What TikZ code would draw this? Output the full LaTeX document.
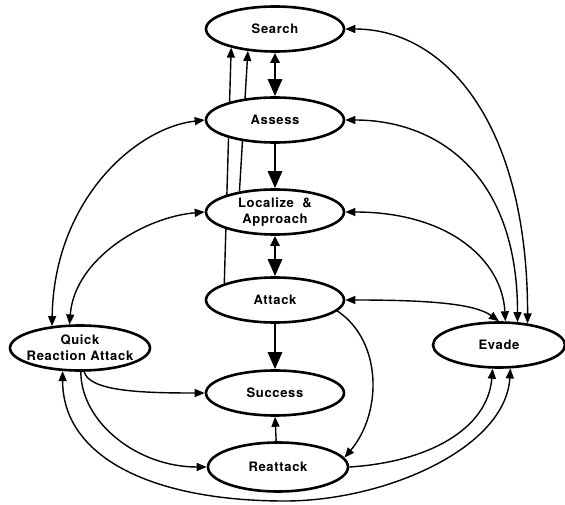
\documentclass[tikz,border=0pt]{standalone}
\usepackage{fontspec}
\newfontfamily\statefont{TeX Gyre Heros}[LetterSpace=5]
\usepackage{tikz}
\usetikzlibrary{arrows.meta,shapes.geometric,backgrounds,positioning}

\tikzset{
  state/.style={ellipse,draw,fill=white,line width=2.6pt,
    minimum width=138pt,minimum height=45pt,inner sep=0pt,align=center,
    font=\statefont\bfseries\fontsize{13}{16}\selectfont},
  link/.style={line width=1.4pt,-{Triangle[length=10pt,width=8pt]}},
  both/.style={link,{Triangle[length=10pt,width=8pt]}-{Triangle[length=10pt,width=8pt]}},
  main/.style={line width=2.8pt,-{Triangle[length=17pt,width=14pt]}},
  mainboth/.style={main,{Triangle[length=10pt,width=9pt]}-{Triangle[length=17pt,width=14pt]}}
}

\begin{document}
\begin{tikzpicture}[x=1pt,y=-1pt]
  \useasboundingbox(0,0)rectangle(565,505);
  \node[state](search)at(275,29){Search};
  \node[state](assess)at(275,120){Assess};
  \node[state](localize)at(275,212){Localize\ \ \&\\Approach};
  \node[state](attack)at(275,300){Attack};
  \node[state](success)at(275,393){Success};
  \node[state,minimum width=140pt,minimum height=49pt](reattack)at(278,467){Reattack};
  \node[state,minimum width=140pt,inner xsep=-8pt](quick)at(80,348){Quick\\Reaction\ Attack};
  \node[state,minimum width=132pt](evade)at(499,345){Evade};
  \coordinate(loopbottom)at(285,501);
  \begin{scope}[on background layer]
    \draw[mainboth](search.south)--(assess.north);
    \draw[main](assess.south)--(localize.north);
    \draw[mainboth](localize.south)--(attack.north);
    \draw[main](attack.south)--(success.north);
    \draw[link](reattack.94)--(success.south);
    \draw[link](attack.162)--(search.-157);
    \draw[link](localize.150)--(search.-141);
    \draw[both](search.east)..controls+(100,0)and+(0,-200)..(evade.37);
    \draw[both](assess.east)..controls+(90,0)and+(0,-150)..(evade.51);
    \draw[both](localize.east)..controls+(105,0)and+(-3,-60)..(evade.75);
    \draw[both](attack.east)..controls+(80,0)and+(-25,-18)..(evade.north);
    \draw[link](attack.-10)..controls+(45,30)and+(38,-45)..(reattack.8);
    \draw[both](assess.west)..controls+(-70,8)and+(2,-125)..(quick.142);
    \draw[both](localize.west)..controls+(-60,5)and+(5,-66)..(quick.114);
    \draw[link](quick.-80)..controls+(5,20)and+(-60,0)..(success.west);
    \draw[link](quick.-88)..controls+(0,50)and+(-70,0)..(reattack.west);
    \draw[both](quick.-127)..controls+(0,85)and+(-135,0)..(loopbottom)
      ..controls+(100,0)and+(-5,80)..(evade.-64);
    \draw[link](reattack.east)..controls+(80,-5)and+(-5,60)..(evade.-105);
  \end{scope}
\end{tikzpicture}
\end{document}
